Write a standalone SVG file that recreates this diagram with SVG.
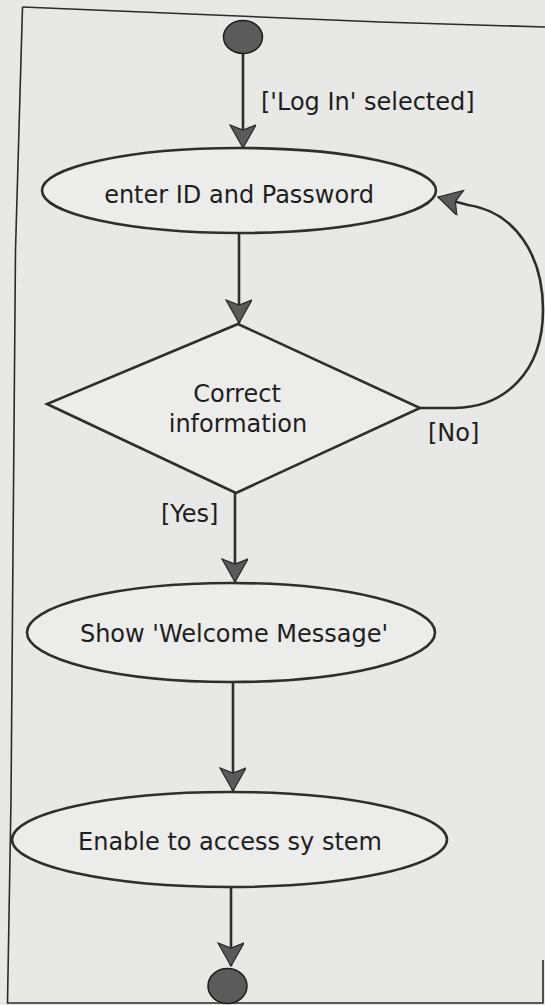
<svg xmlns="http://www.w3.org/2000/svg" width="545" height="1005" viewBox="0 0 545 1005">
  <style>
    .paper { fill: #e8e8e6; }
    .frame { fill: none; stroke: #2b2b2b; stroke-width: 1.6; }
    .state { fill: #ececea; stroke: #2e2e2e; stroke-width: 2.6; }
    .pseudo { fill: #5b5b5b; stroke: #1e1e1e; stroke-width: 1.5; }
    .edge { fill: none; stroke: #2e2e2e; stroke-width: 2.6; }
    .lbl { font-family: "DejaVu Sans", Verdana, sans-serif; font-size: 24px; fill: #1e1e1e; }
    .mid { text-anchor: middle; }
  </style>
  <defs>
    <marker id="head" markerUnits="userSpaceOnUse" markerWidth="26" markerHeight="28" viewBox="0 0 26 28" refX="24" refY="13" orient="auto">
      <path d="M1,0 L24,13 L1,26 L6,13 Z" fill="#5a5a5a" stroke="#2a2a2a" stroke-width="1.2"/>
    </marker>
  </defs>

  <!-- paper and outer frame -->
  <rect class="paper" x="0" y="0" width="545" height="1005"/>
  <path class="frame" d="M22.5,7 L380,22 L545,27"/>
  <path class="frame" d="M22.5,7 L15.5,250 L13,550 L11,800 L7.5,1003 L543,1003 L543,960"/>

  <!-- connectors -->
  <g id="connectors">
    <path class="edge" d="M243,54 L243,148" marker-end="url(#head)"/>
    <path class="edge" d="M239,233 L239,323" marker-end="url(#head)"/>
    <path class="edge" d="M235,493 L235,582" marker-end="url(#head)"/>
    <path class="edge" d="M233,682 L233,791" marker-end="url(#head)"/>
    <path class="edge" d="M231,887 L231,966" marker-end="url(#head)"/>
    <path class="edge" d="M420,408 L455,408 C505,407 543,372 543,310 C543,255 515,212 468,205 L438,197" marker-end="url(#head)"/>
    <text class="lbl" x="261" y="110">['Log In' selected]</text>
    <text class="lbl" x="428" y="441">[No]</text>
    <text class="lbl" x="161" y="522">[Yes]</text>
  </g>

  <!-- initial node -->
  <g id="start">
    <ellipse class="pseudo" cx="243" cy="37" rx="19.5" ry="16.5"/>
  </g>

  <!-- enter credentials -->
  <g id="enter-credentials">
    <ellipse class="state" cx="239" cy="190.5" rx="197" ry="42.5"/>
    <text class="lbl mid" x="239" y="203">enter ID and Password</text>
  </g>

  <!-- decision -->
  <g id="check-info">
    <polygon class="state" points="238,324 420,408 236,493 47,404"/>
    <text class="lbl mid" x="237" y="402">Correct</text>
    <text class="lbl mid" x="238" y="432">information</text>
  </g>

  <!-- welcome -->
  <g id="show-welcome">
    <ellipse class="state" cx="231" cy="632.5" rx="204" ry="49.5"/>
    <text class="lbl mid" x="234" y="642">Show 'Welcome Message'</text>
  </g>

  <!-- access -->
  <g id="enable-access">
    <ellipse class="state" cx="229.5" cy="839.5" rx="217.5" ry="47.5"/>
    <text class="lbl mid" x="230" y="850">Enable to access sy stem</text>
  </g>

  <!-- final node -->
  <g id="end">
    <ellipse class="pseudo" cx="227.5" cy="986" rx="19.5" ry="17.5"/>
  </g>
</svg>
